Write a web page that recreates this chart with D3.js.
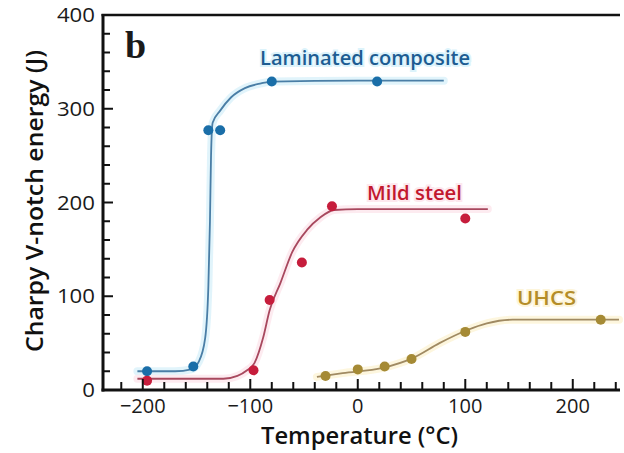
<!DOCTYPE html>
<html>
<head>
<meta charset="utf-8">
<script src="https://cdn.jsdelivr.net/npm/d3@7/dist/d3.min.js"></script>
<style>
html,body{margin:0;padding:0;background:#fff;}
svg{display:block;}
</style>
</head>
<body>
<svg id="chart" width="624" height="453"></svg>
<script>
// ---- data ----
const xTickLabels = [-200, -100, 0, 100, 200];
const yTickLabels = [0, 100, 200, 300, 400];

// measured points
const compositeT = [-196, -153, -139, -128, -80, 18];
const compositeE = [20, 25, 277, 277, 329, 329];
const mildT = [-196, -97, -82, -52, -24, 100];
const mildE = [10, 21, 96, 136, 196, 183];
const uhcsT = [-30, 0, 25, 50, 100, 226];
const uhcsE = [15, 22, 25, 33, 62, 75];

// fitted transition curves
const compositeFitT = [-205, -170, -155, -148, -142, -139, -137.5, -136.5, -135, -128, -118, -105, -90, -80, 0, 80];
const compositeFitE = [20, 20, 22, 30, 55, 110, 180, 250, 285, 298, 312, 322, 327, 329, 330, 330];
const mildFitT = [-205, -150, -125, -112, -103, -96, -88, -82, -72, -61, -47, -35, -22, 0, 60, 121];
const mildFitE = [12, 12, 12, 15, 21, 29, 56, 85, 114, 147, 171, 184, 192, 193, 193, 193];
const uhcsFitT = [-38, -14, 23, 51, 76, 102, 120, 144, 194, 243];
const uhcsFitE = [14, 18, 23.5, 34, 50, 64, 71, 75, 75, 75];

const seriesNames = ["Laminated composite", "Mild steel", "UHCS"];

// ---- layout ----
const svg = d3.select("#chart");
const x = d3.scaleLinear().domain([-237, 243]).range([103, 619]);
const y = d3.scaleLinear().domain([0, 400]).range([390, 15]);
const fontFam = "'Open Sans','Liberation Sans',Arial,sans-serif";

const zip = (a, b) => a.map((v, i) => [v, b[i]]);
const line = d3.line().x(d => x(d[0])).y(d => y(d[1])).curve(d3.curveMonotoneX);

const series = [
  {name: seriesNames[0], pts: zip(compositeT, compositeE), fit: zip(compositeFitT, compositeFitE),
   line: "#4a7ea6", halo: "#d9f1fa", mark: "#1a6ea8", text: "#1d5c92", textHalo: "#dcf3fb",
   lx: 260, ly: 65, lw: 210},
  {name: seriesNames[1], pts: zip(mildT, mildE), fit: zip(mildFitT, mildFitE),
   line: "#a8485e", halo: "#fce6ec", mark: "#c61d3c", text: "#c2182e", textHalo: "#fde8ee",
   lx: 367, ly: 200, lw: 95},
  {name: seriesNames[2], pts: zip(uhcsT, uhcsE), fit: zip(uhcsFitT, uhcsFitE),
   line: "#a08a62", halo: "#fcf4d6", mark: "#a58a35", text: "#b48d28", textHalo: "#fdf5da",
   lx: 517, ly: 305, lw: 59}
];

// halos under lines
series.forEach(s => {
  svg.append("path").attr("d", line(s.fit)).attr("fill", "none")
    .attr("stroke", s.halo).attr("stroke-width", 8).attr("stroke-linecap", "round").attr("opacity", 0.8);
});
// lines
series.forEach(s => {
  svg.append("path").attr("d", line(s.fit)).attr("fill", "none")
    .attr("stroke", s.line).attr("stroke-width", 1.8);
});
// markers
series.forEach(s => {
  svg.append("g").selectAll("circle").data(s.pts).join("circle")
    .attr("cx", d => x(d[0])).attr("cy", d => y(d[1])).attr("r", 5)
    .attr("fill", s.mark);
});
// series labels
series.forEach(s => {
  svg.append("text").attr("x", s.lx).attr("y", s.ly)
    .attr("font-family", fontFam).attr("font-size", 20).attr("font-weight", 600)
    .attr("fill", s.text).attr("stroke", s.textHalo).attr("stroke-width", 4)
    .attr("paint-order", "stroke")
    .attr("textLength", s.lw).attr("lengthAdjust", "spacingAndGlyphs")
    .text(s.name);
});

// ---- axes ----
const axG = svg.append("g");
// frame: left, bottom, top
axG.append("line").attr("x1", x.range()[0]).attr("x2", x.range()[0]).attr("y1", y(400) - 1).attr("y2", y(0) + 1.5)
  .attr("stroke", "#111").attr("stroke-width", 3);
axG.append("line").attr("x1", x.range()[0] - 1.5).attr("x2", x.range()[1] + 1).attr("y1", y(0)).attr("y2", y(0))
  .attr("stroke", "#111").attr("stroke-width", 3);
axG.append("line").attr("x1", x.range()[0] - 1.5).attr("x2", x.range()[1] + 1).attr("y1", y(400)).attr("y2", y(400))
  .attr("stroke", "#111").attr("stroke-width", 2.5);

// y ticks (inward)
const yMinor = d3.range(0, 401, 20);
axG.selectAll(".yt").data(yMinor).join("line")
  .attr("x1", x.range()[0]).attr("x2", d => x.range()[0] + (d % 100 === 0 ? 10 : 7))
  .attr("y1", d => y(d)).attr("y2", d => y(d))
  .attr("stroke", "#111").attr("stroke-width", 2);
// x ticks (inward)
const xMinor = d3.range(-220, 241, 20);
axG.selectAll(".xt").data(xMinor).join("line")
  .attr("x1", d => x(d)).attr("x2", d => x(d))
  .attr("y1", y(0)).attr("y2", d => y(0) - (d % 100 === 0 ? 11 : 8))
  .attr("stroke", "#111").attr("stroke-width", 2);

// y tick labels
axG.selectAll(".yl").data(yTickLabels).join("text")
  .attr("x", 95).attr("y", d => y(d) + 7)
  .attr("text-anchor", "end")
  .attr("font-family", fontFam).attr("font-size", 20).attr("fill", "#1a1a1a")
  .attr("textLength", d => String(d).length * 12.7).attr("lengthAdjust", "spacingAndGlyphs")
  .text(d => d);
// x tick labels
axG.selectAll(".xl").data(xTickLabels).join("text")
  .attr("x", d => x(d)).attr("y", 413)
  .attr("text-anchor", "middle")
  .attr("font-family", fontFam).attr("font-size", 20).attr("fill", "#1a1a1a")
  .text(d => d < 0 ? "\u2212" + Math.abs(d) : d);

// axis titles
svg.append("text").attr("x", 261).attr("y", 444)
  .attr("font-family", fontFam).attr("font-size", 23).attr("font-weight", 600).attr("fill", "#111")
  .attr("textLength", 197).attr("lengthAdjust", "spacingAndGlyphs")
  .text("Temperature (\u00B0C)");
svg.append("text").attr("transform", "translate(43,352) rotate(-90)")
  .attr("x", 0).attr("y", 0)
  .attr("font-family", fontFam).attr("font-size", 24).attr("font-weight", 600).attr("fill", "#111")
  .attr("textLength", 302).attr("lengthAdjust", "spacingAndGlyphs")
  .text("Charpy V-notch energy (J)");

// panel letter
svg.append("text").attr("x", 125).attr("y", 58)
  .attr("font-family", "'Liberation Serif','DejaVu Serif',serif").attr("font-size", 38).attr("font-weight", "bold")
  .attr("fill", "#1a1a1a").text("b");
</script>
</body>
</html>
